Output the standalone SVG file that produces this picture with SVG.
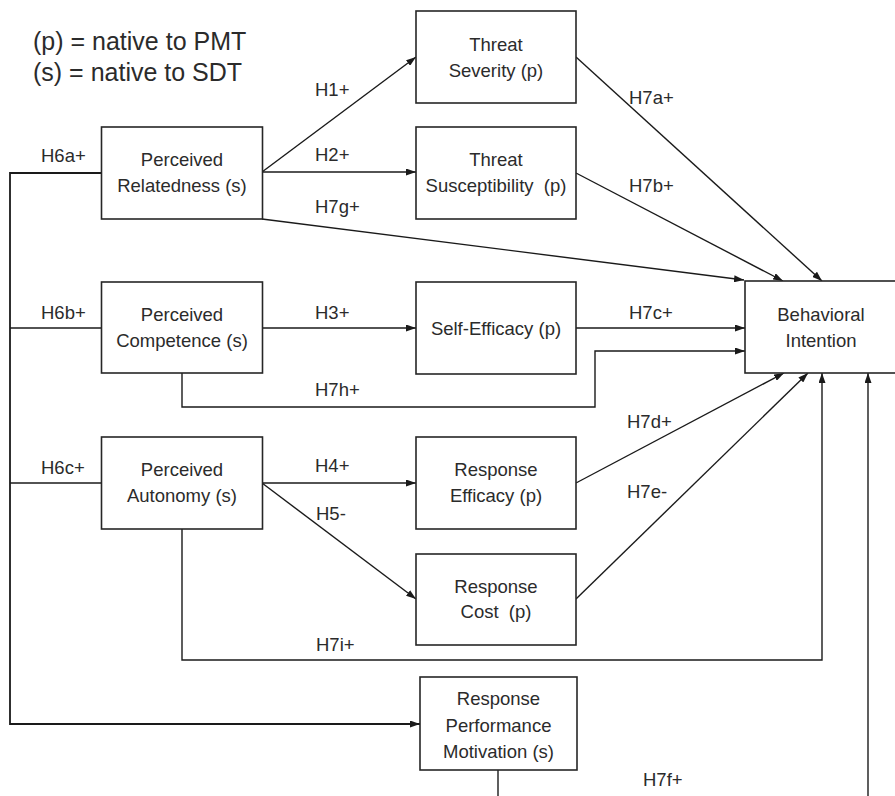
<svg xmlns="http://www.w3.org/2000/svg" width="895" height="796" viewBox="0 0 895 796">
<defs>
<marker id="arr" viewBox="0 0 10 7" refX="10" refY="3.5" markerWidth="10" markerHeight="7" markerUnits="userSpaceOnUse" orient="auto">
<path d="M0,0 L10,3.5 L0,7 z" fill="#1a1a1a"/>
</marker>
<style>
.box{fill:#fff;stroke:#262626;stroke-width:1.6}
.t{font-family:"Liberation Sans",Arial,sans-serif;font-size:18.5px;fill:#2b2b2b;text-anchor:middle;white-space:pre}
.l{font-family:"Liberation Sans",Arial,sans-serif;font-size:18.5px;fill:#2b2b2b;white-space:pre}
.leg{font-family:"Liberation Sans",Arial,sans-serif;font-size:25px;fill:#2b2b2b}
.c{fill:none;stroke:#1a1a1a;stroke-width:1.4}
.a{marker-end:url(#arr)}
</style>
</defs>
<rect width="895" height="796" fill="#fff"/>
<g id="legend">
<text class="leg" x="33" y="50">(p) = native to PMT</text>
<text class="leg" x="33" y="81">(s) = native to SDT</text>
</g>
<g id="connectors">
<path class="c a" d="M262,172 L416,57"/>
<path class="c a" d="M262,172 L416,172"/>
<path class="c a" d="M262,219 L744,280"/>
<path class="c a" d="M576,57 L822,281"/>
<path class="c a" d="M576,173 L783,281"/>
<path class="c a" d="M262,328 L416,328"/>
<path class="c a" d="M576,328 L745,328"/>
<path class="c a" d="M182,373 V407 H595 V351 H745"/>
<path class="c a" d="M262,483 H416"/>
<path class="c a" d="M262,483 L416,599"/>
<path class="c a" d="M576,483 L784,373"/>
<path class="c a" d="M576,599 L808,373"/>
<path class="c a" d="M182,529 V660 H822 V373"/>
<path class="c a" d="M101,173 H10 V724 H420" style="stroke-width:1.8"/>
<path class="c" d="M101,328 H10"/>
<path class="c" d="M101,483 H10"/>
<path class="c" d="M498,770 V797"/>
<path class="c a" d="M868,797 V373"/>
<text class="l" x="315" y="96">H1+</text>
<text class="l" x="315" y="161">H2+</text>
<text class="l" x="315" y="213">H7g+</text>
<text class="l" x="629" y="104">H7a+</text>
<text class="l" x="629" y="192">H7b+</text>
<text class="l" x="629" y="319">H7c+</text>
<text class="l" x="41" y="162">H6a+</text>
<text class="l" x="41" y="319">H6b+</text>
<text class="l" x="41" y="474">H6c+</text>
<text class="l" x="315" y="319">H3+</text>
<text class="l" x="315" y="396">H7h+</text>
<text class="l" x="315" y="472">H4+</text>
<text class="l" x="316" y="520">H5-</text>
<text class="l" x="316" y="651">H7i+</text>
<text class="l" x="627" y="428">H7d+</text>
<text class="l" x="627" y="498">H7e-</text>
<text class="l" x="643" y="786">H7f+</text>
</g>
<g id="perceived-relatedness">
<rect class="box" x="101.5" y="127" width="161" height="92"/>
<text class="t" x="182" y="166">Perceived</text>
<text class="t" x="182" y="192">Relatedness (s)</text>
</g>
<g id="threat-severity">
<rect class="box" x="416" y="11" width="160" height="92"/>
<text class="t" x="496" y="51">Threat</text>
<text class="t" x="496" y="77">Severity (p)</text>
</g>
<g id="threat-susceptibility">
<rect class="box" x="416" y="127" width="160" height="92"/>
<text class="t" x="496" y="166">Threat</text>
<text class="t" x="496" y="192">Susceptibility  (p)</text>
</g>
<g id="perceived-competence">
<rect class="box" x="101.5" y="282" width="161" height="91"/>
<text class="t" x="182" y="321">Perceived</text>
<text class="t" x="182" y="347">Competence (s)</text>
</g>
<g id="self-efficacy">
<rect class="box" x="416" y="282" width="160" height="92"/>
<text class="t" x="496" y="335">Self-Efficacy (p)</text>
</g>
<g id="behavioral-intention">
<rect class="box" x="745" y="281" width="153" height="92"/>
<text class="t" x="821" y="321">Behavioral</text>
<text class="t" x="821" y="347">Intention</text>
</g>
<g id="perceived-autonomy">
<rect class="box" x="101.5" y="437" width="161" height="92"/>
<text class="t" x="182" y="476">Perceived</text>
<text class="t" x="182" y="502">Autonomy (s)</text>
</g>
<g id="response-efficacy">
<rect class="box" x="416" y="437" width="160" height="92"/>
<text class="t" x="496" y="476">Response</text>
<text class="t" x="496" y="502">Efficacy (p)</text>
</g>
<g id="response-cost">
<rect class="box" x="416" y="554" width="160" height="91"/>
<text class="t" x="496" y="593">Response</text>
<text class="t" x="496" y="618">Cost  (p)</text>
</g>
<g id="response-performance-motivation">
<rect class="box" x="420" y="677" width="157" height="93"/>
<text class="t" x="498.5" y="705">Response</text>
<text class="t" x="498.5" y="731.5">Performance</text>
<text class="t" x="498.5" y="758">Motivation (s)</text>
</g>
</svg>
